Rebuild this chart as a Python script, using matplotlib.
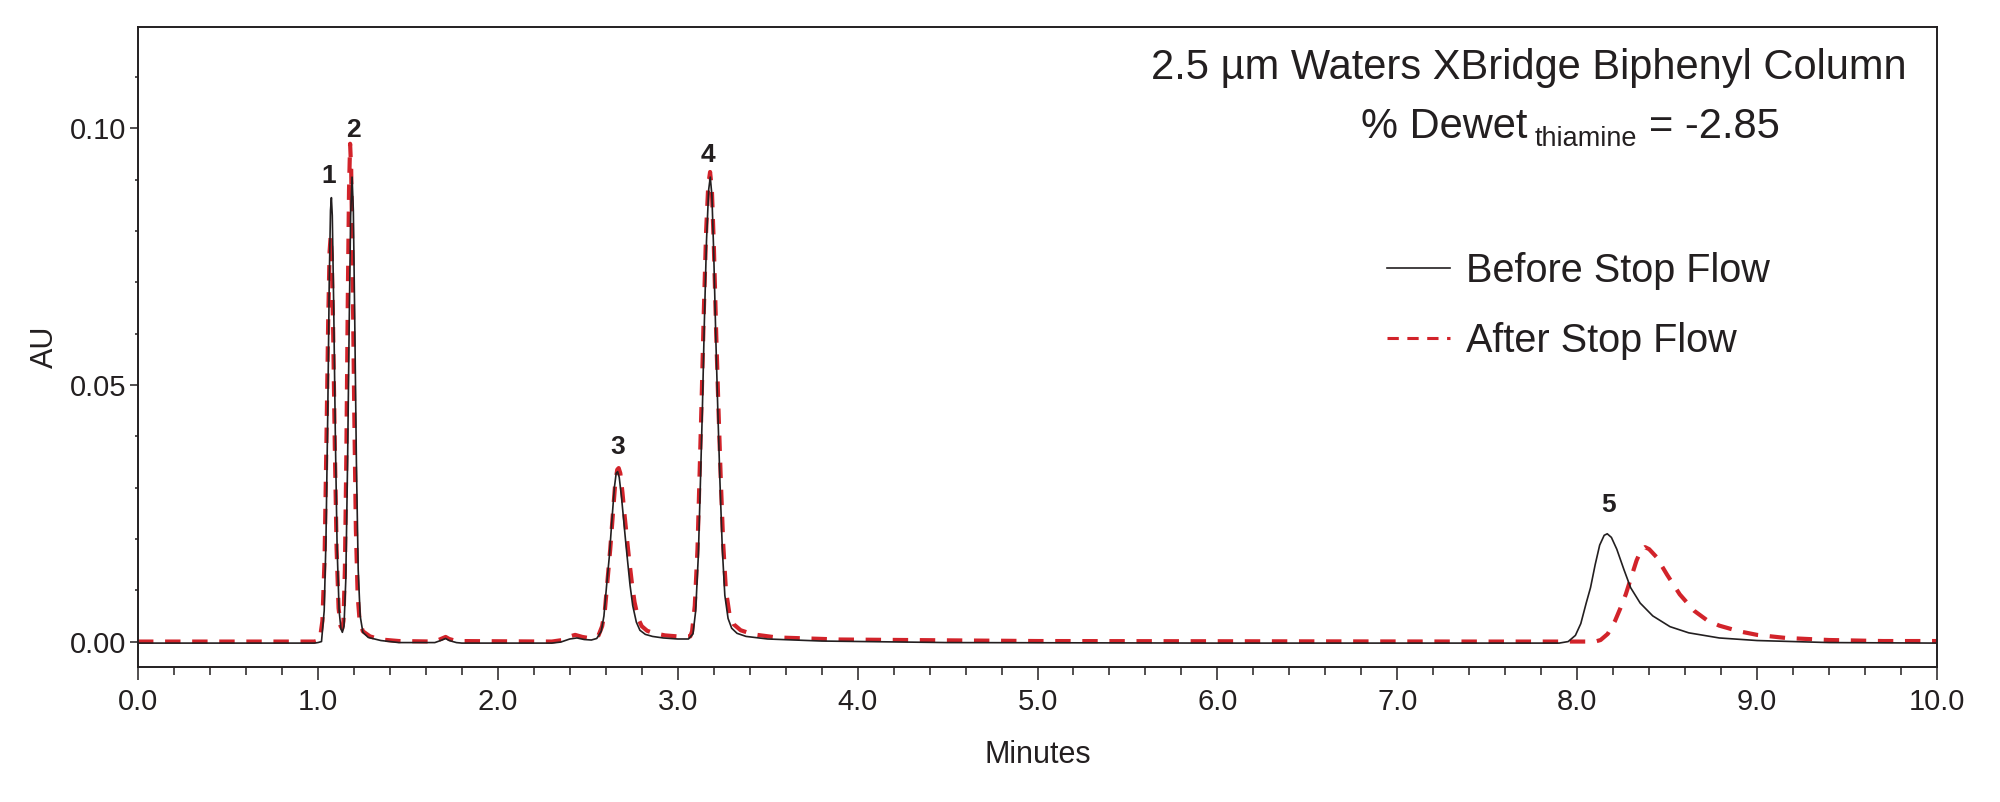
import matplotlib
matplotlib.use("Agg")
import matplotlib.pyplot as plt
from matplotlib.ticker import MultipleLocator, FormatStrFormatter

plt.rcParams['font.family'] = ['Liberation Sans', 'DejaVu Sans']

# traced chromatograms (minutes, AU)
before_t = [0.0, 0.5, 0.98, 1.00,
            1.02, 1.035, 1.045, 1.055, 1.063, 1.070, 1.075, 1.080, 1.088, 1.097, 1.107, 1.118, 1.128, 1.136,
            1.145, 1.155, 1.165, 1.174, 1.182, 1.190, 1.197, 1.205, 1.214, 1.224, 1.235, 1.25, 1.28, 1.35, 1.45,
            1.65, 1.69, 1.71, 1.73, 1.77, 1.8, 2.3,
            2.35, 2.40, 2.44, 2.48, 2.52, 2.55, 2.575,
            2.59, 2.605, 2.62, 2.635, 2.648, 2.658, 2.666, 2.675, 2.688, 2.70, 2.712, 2.722, 2.735, 2.75, 2.77,
            2.79, 2.82, 2.86, 2.92, 3.0, 3.06,
            3.085, 3.10, 3.115, 3.127, 3.137, 3.148, 3.160, 3.172, 3.181, 3.190, 3.200, 3.212, 3.223, 3.235,
            3.248, 3.262, 3.28, 3.30, 3.33, 3.38, 3.5, 3.8, 4.5, 6.0, 7.5, 7.9,
            7.95, 7.99, 8.02, 8.05, 8.074, 8.10, 8.125, 8.15, 8.167, 8.19, 8.22, 8.26, 8.297, 8.35, 8.42,
            8.516, 8.62, 8.79, 9.0, 9.4, 10.0]
before_au = [-0.0003, -0.0003, -0.0003, -0.0002,
             0.0, 0.006, 0.020, 0.045, 0.070, 0.084, 0.0865, 0.083, 0.065, 0.040, 0.018, 0.006, 0.0025, 0.0018,
             0.003, 0.012, 0.035, 0.062, 0.083, 0.0905, 0.084, 0.062, 0.035, 0.014, 0.005, 0.0018, 0.0008, 0.0002, -0.0002,
             -0.0002, 0.0003, 0.0006, 0.0002, -0.0002, -0.0003, -0.0003,
             -0.0001, 0.0005, 0.0007, 0.0004, 0.0003, 0.0006, 0.002,
             0.005, 0.011, 0.0166, 0.024, 0.030, 0.0328, 0.0331, 0.0320, 0.028, 0.0235, 0.019, 0.0155, 0.011, 0.0070, 0.0038,
             0.0022, 0.0014, 0.0010, 0.0007, 0.0005, 0.0005,
             0.0015, 0.006, 0.017, 0.032, 0.045, 0.062, 0.078, 0.088, 0.0905, 0.087, 0.076, 0.059, 0.045, 0.031,
             0.018, 0.009, 0.0045, 0.0026, 0.0016, 0.0010, 0.0005, 0.0001, -0.0002, -0.0003, -0.0003, -0.0003,
             0.0000, 0.0012, 0.0035, 0.0075, 0.0105, 0.0150, 0.0188, 0.0207, 0.0210, 0.0203, 0.0180, 0.0140, 0.0105, 0.0075, 0.0050,
             0.0029, 0.0017, 0.0007, 0.0002, -0.0002, -0.0003]

after_t = [0.0, 0.98,
           1.01, 1.025, 1.037, 1.047, 1.057, 1.065, 1.071, 1.077, 1.085, 1.094, 1.104, 1.115, 1.126, 1.135,
           1.142, 1.150, 1.158, 1.166, 1.173, 1.179, 1.185, 1.193, 1.202, 1.211, 1.221, 1.232, 1.25, 1.29, 1.35, 1.45,
           1.65, 1.69, 1.71, 1.73, 1.77, 2.3,
           2.36, 2.40, 2.43, 2.47, 2.52, 2.56, 2.58,
           2.595, 2.61, 2.625, 2.640, 2.653, 2.664, 2.672, 2.681, 2.693, 2.705, 2.718, 2.730, 2.745, 2.76, 2.78,
           2.80, 2.83, 2.87, 2.93, 3.0, 3.07,
           3.08, 3.095, 3.110, 3.122, 3.133, 3.145, 3.158, 3.170, 3.180, 3.190, 3.201, 3.214, 3.226, 3.239,
           3.253, 3.268, 3.287, 3.31, 3.35, 3.42, 3.55, 3.9, 5.0, 7.5, 8.10,
           8.13, 8.17, 8.21, 8.24, 8.27, 8.30, 8.33, 8.355, 8.377, 8.40, 8.44, 8.50, 8.57, 8.65, 8.72,
           8.79, 8.90, 9.0, 9.16, 9.4, 9.7, 10.0]
after_au = [0.0, 0.0,
            0.0003, 0.004, 0.016, 0.038, 0.062, 0.076, 0.079, 0.075, 0.060, 0.038, 0.018, 0.0065, 0.0030, 0.0025,
            0.004, 0.014, 0.036, 0.066, 0.088, 0.097, 0.092, 0.072, 0.045, 0.022, 0.009, 0.0040, 0.0020, 0.0010, 0.0004, 0.0001,
            0.0, 0.0006, 0.0009, 0.0005, 0.0001, 0.0,
            0.0003, 0.0010, 0.0013, 0.0009, 0.0006, 0.0012, 0.003,
            0.006, 0.012, 0.018, 0.025, 0.031, 0.0335, 0.0338, 0.0328, 0.029, 0.0245, 0.020, 0.016, 0.0115, 0.0077, 0.0045,
            0.0030, 0.0021, 0.0016, 0.0012, 0.0010, 0.0010,
            0.0020, 0.007, 0.018, 0.033, 0.047, 0.064, 0.080, 0.089, 0.0915, 0.088, 0.077, 0.060, 0.046, 0.032,
            0.019, 0.010, 0.0055, 0.0034, 0.0022, 0.0014, 0.0008, 0.0004, 0.0001, 0.0, 0.0,
            0.0003, 0.0015, 0.0040, 0.0065, 0.0092, 0.0125, 0.0158, 0.0178, 0.0184, 0.0180, 0.0165, 0.0130, 0.0092, 0.0060, 0.0042,
            0.0031, 0.0020, 0.0013, 0.0007, 0.0003, 0.0001, 0.0001]

peak_ids = ['1', '2', '3', '4', '5']
peak_label_t = [1.062, 1.197, 2.664, 3.168, 8.174]
peak_label_au = [0.0907, 0.0997, 0.0380, 0.0949, 0.0266]

ink = '#231f20'
red = '#d2232a'

fig = plt.figure(figsize=(20, 8.02), dpi=100)
ax = fig.add_axes([0.069, 0.1687, 0.8995, 0.7973])

ax.plot(after_t, after_au, color=red, lw=3.0, dashes=(3.7, 2.8), label='After Stop Flow', zorder=2)
ax.plot(before_t, before_au, color=ink, lw=1.2, label='Before Stop Flow', zorder=3)

for pid, px, py in zip(peak_ids, peak_label_t, peak_label_au):
    ax.text(px, py, pid, ha='center', va='center', fontsize=19, fontweight='bold', color=ink)

ax.set_xlim(0, 10)
ax.set_ylim(-0.0049, 0.1197)
ax.xaxis.set_major_locator(MultipleLocator(1.0))
ax.xaxis.set_minor_locator(MultipleLocator(0.2))
ax.xaxis.set_major_formatter(FormatStrFormatter('%.1f'))
ax.yaxis.set_major_locator(MultipleLocator(0.05))
ax.yaxis.set_minor_locator(MultipleLocator(0.01))
ax.yaxis.set_major_formatter(FormatStrFormatter('%.2f'))
ax.tick_params(axis='x', which='major', length=9.5, width=1.1, pad=6, labelsize=21, colors=ink)
ax.tick_params(axis='x', which='minor', length=5.5, width=1.1, colors=ink)
ax.tick_params(axis='y', which='major', length=5.5, width=1.1, pad=3, labelsize=21, colors=ink)
ax.tick_params(axis='y', which='minor', length=2.5, width=1.1, colors=ink)
for s in ax.spines.values():
    s.set_linewidth(1.4)
    s.set_color(ink)

ax.set_xlabel('Minutes', fontsize=22, color=ink, labelpad=17)
ax.set_ylabel('AU', fontsize=22, color=ink, labelpad=7)

# header text
fig.text(0.7643, 1 - 79 / 802, '2.5 µm Waters XBridge Biphenyl Column', ha='center', va='baseline',
         fontsize=30, color=ink)
fig.text(1527 / 2000, 1 - 138 / 802, '% Dewet', ha='right', va='baseline', fontsize=30, color=ink)
fig.text(1534.8 / 2000, 1 - 145.5 / 802, 'thiamine', ha='left', va='baseline', fontsize=19.5, color=ink)
fig.text(1649 / 2000, 1 - 138 / 802, '= -2.85', ha='left', va='baseline', fontsize=30, color=ink)

handles, labels = ax.get_legend_handles_labels()
leg = ax.legend(handles[::-1], labels[::-1], loc='upper left', bbox_to_anchor=(1386.7 / 2000, 1 - 252 / 802),
                bbox_transform=fig.transFigure, frameon=False, fontsize=28.5, handlelength=1.61,
                handletextpad=0.39, labelspacing=0.81, borderpad=0, borderaxespad=0)
leg.get_lines()[1].set_linewidth(2.2)
for t in leg.get_texts():
    t.set_color(ink)

fig.savefig('out.png', dpi=100)
